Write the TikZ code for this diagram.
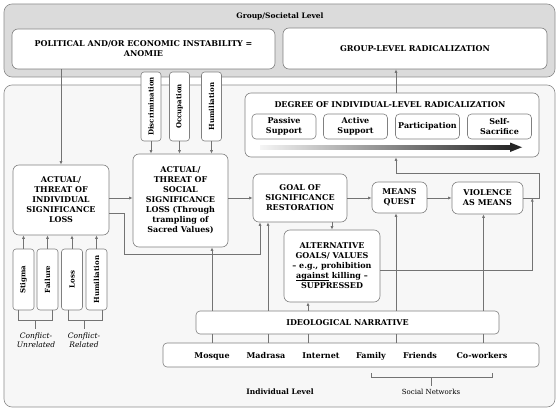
\documentclass[tikz,border=0pt]{standalone}
\usepackage{fontspec}
\setmainfont{DejaVu Serif}
\usetikzlibrary{arrows.meta}

\newcommand{\lineunder}[1]{{\setbox0\hbox{#1}\rlap{\rule[-1.8pt]{\wd0}{0.5pt}}\box0}}

\begin{document}
\begin{tikzpicture}[
    x=1pt, y=-1pt,
    % Style for the two level panels
    level panel/.style={draw=black!45, rounded corners=8pt, line width=0.6pt},
    % Style for the bold concept boxes
    conceptbox/.style={draw=black!50, fill=white, rounded corners=6pt, align=center,
        inner sep=1pt, line width=0.6pt, font=\bfseries\fontsize{8}{10}\selectfont},
    % Style for the four stages of radicalization
    stagebox/.style={conceptbox, rounded corners=4pt, minimum width=64pt, minimum height=25pt},
    % Style for the small upright tag boxes
    tagbox/.style={draw=black!50, fill=white, rounded corners=3pt, rotate=90,
        inner sep=1pt, line width=0.6pt, font=\bfseries\fontsize{7}{8}\selectfont},
    % Style for the words in the networks strip
    netlabel/.style={font=\bfseries\fontsize{8}{10}\selectfont, inner sep=1pt},
    % Style for connectors
    link/.style={draw=black!55, line width=0.7pt},
    arrow/.style={link, -{Latex[length=3.5pt,width=3pt]}}
]

    \useasboundingbox (0,0) rectangle (560,412);

    % --- 1. Level Panels ---
    \draw[level panel, fill=gray!28] (4,4) rectangle (555,77);
    \draw[level panel, fill=gray!6] (4,85) rectangle (555,407);

    \node[font=\bfseries\fontsize{7.5}{9}\selectfont] (grouplevel) at (280,16) {Group/Societal Level};
    \node[font=\bfseries\fontsize{7.5}{9}\selectfont] (indivlevel) at (280,392) {Individual Level};
    \node[font=\fontsize{7}{9}\selectfont] (socialnet) at (431,392) {Social Networks};

    % --- 2. Define Coordinates ---
    \coordinate (tapA) at (212,0);
    \coordinate (tapB) at (268,0);
    \coordinate (tapC) at (308,0);
    \coordinate (tapD) at (396,0);
    \coordinate (tapE) at (483.5,0);
    \coordinate (bypass) at (124,254);
    \coordinate (bypassend) at (260,0);
    \coordinate (loopup) at (539,173);

    % --- 3. Concept Boxes ---
    \node[conceptbox, minimum width=263pt, minimum height=40pt] (anomie) at (143.5,49)
        {POLITICAL AND/OR ECONOMIC INSTABILITY =\\ANOMIE};
    \node[conceptbox, minimum width=264pt, minimum height=41pt] (grouprad) at (415,48.5)
        {GROUP-LEVEL RADICALIZATION};

    \node[conceptbox, minimum width=294pt, minimum height=64pt] (degree) at (392,125) {};
    \node[netlabel] (degreetitle) at (390,105) {DEGREE OF INDIVIDUAL-LEVEL RADICALIZATION};
    \node[stagebox] (passive) at (284,126.5) {Passive\\Support};
    \node[stagebox] (active) at (355.5,126.5) {Active\\Support};
    \node[stagebox] (participation) at (427.5,126.5) {Participation};
    \node[stagebox] (sacrifice) at (499.5,126.5) {Self-\\Sacrifice};

    % gradient arrow under the stages
    \shade[left color=gray!8, right color=black!85] (260,145) rectangle (511,149.5);
    \fill[black!85] (510,142.5) -- (522,147.25) -- (510,152) -- cycle;

    \node[conceptbox, minimum width=96pt, minimum height=70pt] (indiv) at (61,200)
        {ACTUAL/\\THREAT OF\\INDIVIDUAL\\SIGNIFICANCE\\LOSS};
    \node[conceptbox, minimum width=95pt, minimum height=93pt] (social) at (180.5,200.5)
        {ACTUAL/\\THREAT OF\\SOCIAL\\SIGNIFICANCE\\LOSS (Through\\trampling of\\Sacred Values)};
    \node[conceptbox, minimum width=94pt, minimum height=48pt] (goal) at (300,198)
        {GOAL OF\\SIGNIFICANCE\\RESTORATION};
    \node[conceptbox, minimum width=55pt, minimum height=31pt] (means) at (399.5,197.5)
        {MEANS\\QUEST};
    \node[conceptbox, minimum width=71pt, minimum height=32pt] (violence) at (487.5,198)
        {VIOLENCE\\AS MEANS};
    \node[conceptbox, minimum width=96pt, minimum height=72pt] (alt) at (332,266)
        {ALTERNATIVE\\GOALS/ VALUES\\-- e.g., prohibition\\\lineunder{against} killing --\\SUPPRESSED};

    \node[conceptbox, rounded corners=4pt, minimum width=303pt, minimum height=23pt] (ideo) at (347.5,322.5)
        {IDEOLOGICAL NARRATIVE};
    \node[conceptbox, rounded corners=4pt, minimum width=376pt, minimum height=24pt] (networks) at (351,355) {};
    \node[netlabel] (mosque) at (212,356) {Mosque};
    \node[netlabel] (madrasa) at (266,356) {Madrasa};
    \node[netlabel] (internet) at (321,356) {Internet};
    \node[netlabel] (family) at (371,356) {Family};
    \node[netlabel] (friends) at (420,356) {Friends};
    \node[netlabel] (coworkers) at (482,356) {Co-workers};

    % --- 4. Tag Boxes ---
    \node[tagbox, minimum width=69pt, minimum height=20pt] (discrimination) at (151,106.5) {Discrimination};
    \node[tagbox, minimum width=69pt, minimum height=20pt] (occupation) at (179.5,106.5) {Occupation};
    \node[tagbox, minimum width=69pt, minimum height=20pt] (grouphumil) at (211.5,106.5) {Humiliation};

    \node[tagbox, minimum width=61pt, minimum height=21pt] (stigma) at (23.5,279.5) {Stigma};
    \node[tagbox, minimum width=61pt, minimum height=21pt] (failure) at (47.5,279.5) {Failure};
    \node[tagbox, minimum width=61pt, minimum height=21pt] (loss) at (72,279.5) {Loss};
    \node[tagbox, minimum width=61pt, minimum height=21pt] (humiliation) at (96.5,279.5) {Humiliation};

    \node[font=\itshape\fontsize{7.5}{9}\selectfont, align=center] (unrelated) at (36,340) {Conflict-\\Unrelated};
    \node[font=\itshape\fontsize{7.5}{9}\selectfont, align=center] (related) at (84,340) {Conflict-\\Related};

    % --- 5. Draw Connectors ---
    \draw[arrow] (anomie.south -| indiv.north) -- (indiv.north);
    \draw[arrow] (discrimination.west) -- (discrimination.west |- social.north);
    \draw[arrow] (occupation.west) -- (occupation.west |- social.north);
    \draw[arrow] (grouphumil.west) -- (grouphumil.west |- social.north);

    \draw[arrow] (stigma.east) -- (stigma.east |- indiv.south);
    \draw[arrow] (failure.east) -- (failure.east |- indiv.south);
    \draw[arrow] (loss.east) -- (loss.east |- indiv.south);
    \draw[arrow] (humiliation.east) -- (humiliation.east |- indiv.south);

    \draw[arrow] ([yshift=2pt]indiv.east) -- ([yshift=2pt]indiv.east -| social.west);
    \draw[arrow] ([yshift=-13pt]indiv.east) -| (bypass) -| (bypassend |- goal.south);
    \draw[arrow] (social.east |- goal.west) -- (goal.west);
    \draw[arrow] (goal.east) -- (goal.east -| means.west);
    \draw[arrow] (means.east |- violence.west) -- (violence.west);
    \draw[arrow] (violence.east) -| (loopup) -| ([xshift=4pt]degree.south);
    \draw[arrow] ([xshift=4pt]degree.north) -- ([xshift=4pt]degree.north |- grouprad.south);
    \draw[arrow] (alt.north |- goal.south) -- (alt.north);
    \draw[arrow] ([yshift=-4pt]alt.east) -| ([xshift=9pt]violence.east);

    % narrative feeding the boxes above
    \draw[arrow] (tapA |- ideo.north) -- (tapA |- social.south);
    \draw[arrow] (tapB |- ideo.north) -- (tapB |- goal.south);
    \draw[arrow] (tapC |- ideo.north) -- (tapC |- alt.south);
    \draw[arrow] (tapD |- ideo.north) -- (tapD |- means.south);
    \draw[arrow] (tapE |- ideo.north) -- (tapE |- violence.south);

    \draw[link] (tapA |- networks.north) -- (tapA |- ideo.south);
    \draw[link] (tapB |- networks.north) -- (tapB |- ideo.south);
    \draw[link] (tapC |- networks.north) -- (tapC |- ideo.south);
    \draw[link] (tapD |- networks.north) -- (tapD |- ideo.south);
    \draw[link] (tapE |- networks.north) -- (tapE |- ideo.south);

    % brackets
    \draw[link] ([xshift=-5.5pt]stigma.west) -- ++(0,10) -| ([xshift=4.5pt]failure.west);
    \draw[link] ([xshift=-4pt]loss.west) -- ++(0,10) -| ([xshift=5.5pt]humiliation.west);
    \coordinate (unrelbrace) at (35.5,320);
    \coordinate (relbrace) at (84,320);
    \draw[link] (unrelbrace) -- (unrelbrace |- unrelated.north);
    \draw[link] (relbrace) -- (relbrace |- related.north);

    \coordinate (netbraceL) at (371,377);
    \coordinate (netbraceR) at (492,377);
    \coordinate (netbraceM) at (431,377);
    \draw[link] ([yshift=4pt]netbraceL) -- (netbraceL) -- (netbraceR) -- ([yshift=4pt]netbraceR);
    \draw[link] (netbraceM) -- (netbraceM |- socialnet.north);

\end{tikzpicture}
\end{document}
